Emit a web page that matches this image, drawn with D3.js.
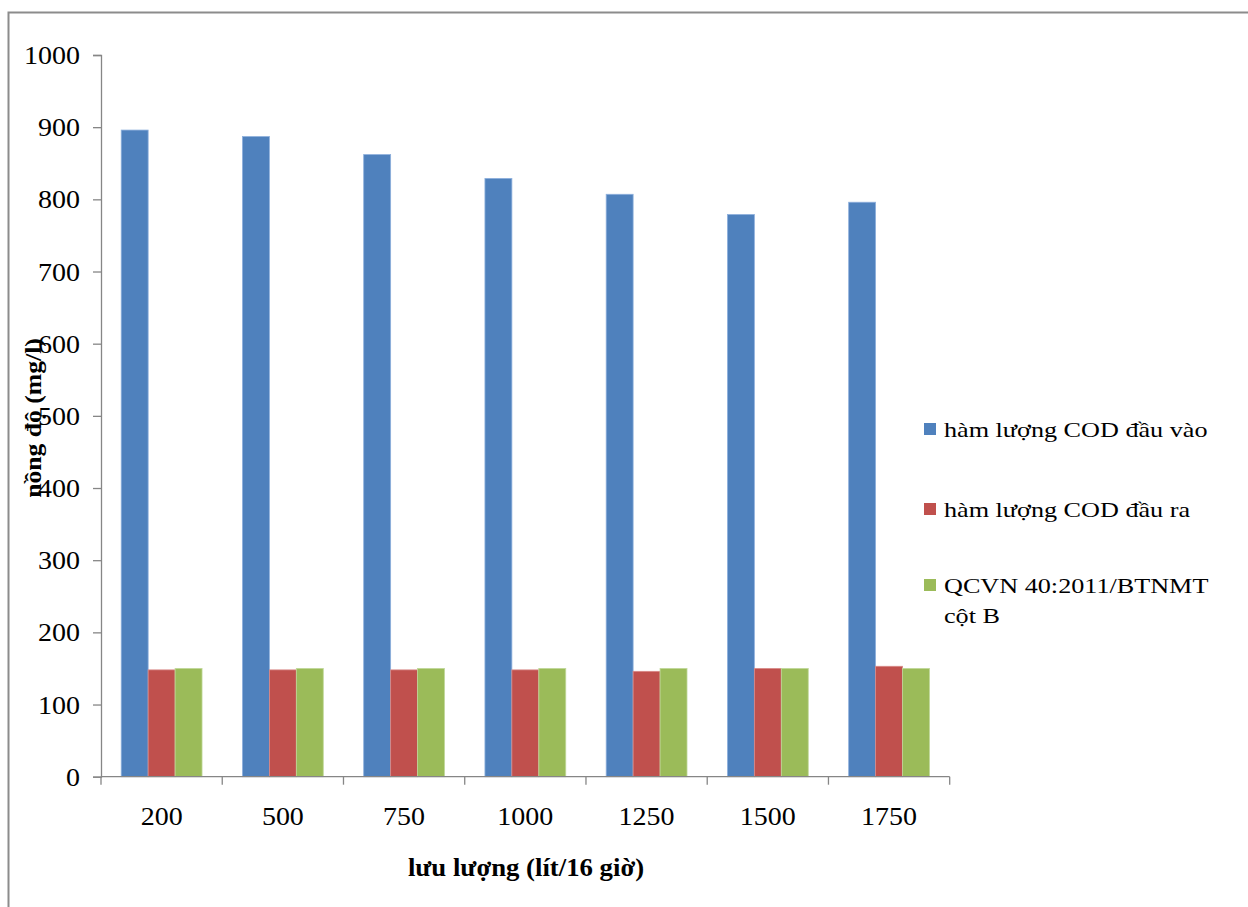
<!DOCTYPE html>
<html>
<head>
<meta charset="utf-8">
<script src="https://cdn.jsdelivr.net/npm/d3@7"></script>
<style>
  html, body { margin: 0; padding: 0; background: #fff; }
  svg { display: block; font-family: "Liberation Serif", "Times New Roman", serif; }
  svg text { font-family: "Liberation Serif", "Times New Roman", serif; }
</style>
</head>
<body>
<svg id="chart" width="1248" height="907"></svg>
<script>
// Flow rates (lít/16 giờ) on the category axis
const flowRates = ["200", "500", "750", "1000", "1250", "1500", "1750"];
// COD concentration entering the system (mg/l)
const codIn = [896, 887, 862, 829, 807, 779, 796];
// COD concentration leaving the system (mg/l)
const codOut = [148, 148, 148, 148, 146, 150, 153];
// Permitted limit, QCVN 40:2011/BTNMT column B (mg/l)
const limitB = [150, 150, 150, 150, 150, 150, 150];
const seriesNames = ["hàm lượng COD đầu vào", "hàm lượng COD đầu ra", "QCVN 40:2011/BTNMT cột B"];
const seriesColors = ["#4f81bd", "#c0504d", "#9bbb59"];
const seriesEdges = ["#8eb0dc", "#d98a88", "#c0d89a"];
const yTicks = [0, 100, 200, 300, 400, 500, 600, 700, 800, 900, 1000];

const svg = d3.select("#chart");

// Chart area frame (left and top edges)
svg.append("path")
  .attr("d", "M8.5,907 V12.5 H1248")
  .attr("fill", "none")
  .attr("stroke", "#8c8c8c")
  .attr("stroke-width", 2);

const plot = { left: 101, right: 949.7, top: 55, bottom: 776.7 };

const x0 = d3.scaleBand().domain(flowRates).range([plot.left, plot.right]).padding(0);
const bw = x0.bandwidth() / 4.5;
const x1 = d3.scaleBand().domain(d3.range(3)).range([bw * 0.75, x0.bandwidth() - bw * 0.75]).padding(0);
const y = d3.scaleLinear().domain([0, 1000]).range([plot.bottom, plot.top]);

const seriesData = [codIn, codOut, limitB];

// Bars
const groups = svg.append("g").selectAll("g")
  .data(flowRates)
  .join("g")
  .attr("transform", d => `translate(${x0(d)},0)`);

groups.selectAll("rect")
  .data((d, i) => seriesData.map((s, k) => ({ k, v: s[i] })))
  .join("rect")
  .attr("x", d => x1(d.k))
  .attr("width", x1.bandwidth())
  .attr("y", d => y(d.v))
  .attr("height", d => y(0) - y(d.v))
  .attr("fill", d => seriesColors[d.k])
  .attr("stroke", d => seriesEdges[d.k])
  .attr("stroke-width", 0.8);

// Text in this chart is set a little wide
const SX = 1.12;

// Y axis
const yAxis = svg.append("g")
  .attr("transform", `translate(${plot.left},0)`)
  .call(d3.axisLeft(y).tickValues(yTicks).tickSize(8).tickPadding(13).tickFormat(d3.format("d")));
yAxis.attr("font-family", null);
yAxis.select(".domain").attr("stroke", "#868686").attr("stroke-width", 1.3);
yAxis.selectAll(".tick line").attr("stroke", "#868686").attr("stroke-width", 1.3);
yAxis.selectAll(".tick text")
  .attr("font-size", 25)
  .attr("fill", "#000")
  .attr("x", 0)
  .attr("dy", "0.34em")
  .attr("transform", `translate(-21,0) scale(${SX},1)`);

// X axis: baseline with tick marks on category boundaries
const xg = svg.append("g").attr("transform", `translate(0,${plot.bottom})`);
xg.append("line")
  .attr("x1", plot.left).attr("x2", plot.right)
  .attr("stroke", "#868686").attr("stroke-width", 1.3);
xg.selectAll("line.tk")
  .data(flowRates.concat(["end"]))
  .join("line")
  .attr("class", "tk")
  .attr("x1", (d, i) => i < flowRates.length ? x0(d) : plot.right)
  .attr("x2", (d, i) => i < flowRates.length ? x0(d) : plot.right)
  .attr("y1", 0).attr("y2", 8)
  .attr("stroke", "#868686").attr("stroke-width", 1.3);
xg.selectAll("text")
  .data(flowRates)
  .join("text")
  .attr("transform", d => `translate(${x0(d) + x0.bandwidth() / 2},48) scale(${SX},1)`)
  .attr("text-anchor", "middle")
  .attr("font-size", 25)
  .text(d => d);

// Axis titles
svg.append("text")
  .attr("transform", `translate(526,876) scale(1.07,1)`)
  .attr("text-anchor", "middle")
  .attr("font-weight", "bold")
  .attr("font-size", 25)
  .text("lưu lượng (lít/16 giờ)");

svg.append("text")
  .attr("transform", "translate(41,418) rotate(-90) scale(1.07,1)")
  .attr("text-anchor", "middle")
  .attr("font-weight", "bold")
  .attr("font-size", 24)
  .text("nồng độ (mg/l)");

// Legend
const legendRows = [
  { lines: ["hàm lượng COD đầu vào"], y: 437 },
  { lines: ["hàm lượng COD đầu ra"], y: 517 },
  { lines: ["QCVN 40:2011/BTNMT", "cột B"], y: 593 }
];
const legend = svg.append("g");
legendRows.forEach((row, i) => {
  legend.append("rect")
    .attr("x", 924).attr("y", row.y - 14)
    .attr("width", 12).attr("height", 12)
    .attr("fill", seriesColors[i]);
  const t = legend.append("text")
    .attr("transform", `translate(944,${row.y}) scale(1.19,1)`)
    .attr("font-size", 22);
  row.lines.forEach((ln, j) => {
    t.append("tspan").attr("x", 0).attr("dy", j === 0 ? 0 : 30).text(ln);
  });
});
</script>
</body>
</html>
